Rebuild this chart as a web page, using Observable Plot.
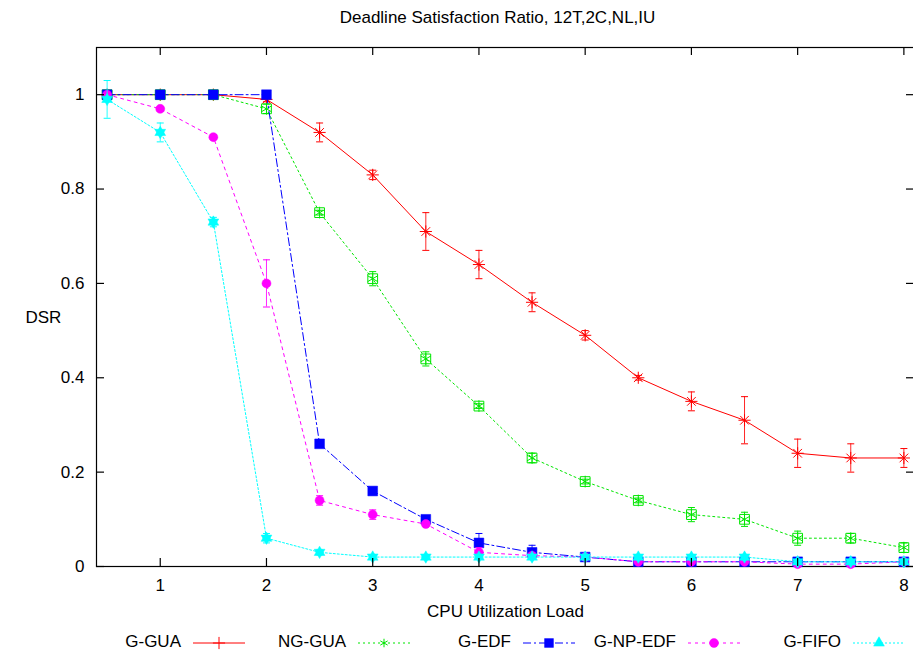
<!DOCTYPE html>
<html><head><meta charset="utf-8">
<script src="https://cdn.jsdelivr.net/npm/d3@7"></script>
<script src="https://cdn.jsdelivr.net/npm/@observablehq/plot@0.6"></script>
<style>
html,body{margin:0;padding:0;background:#fff;overflow:hidden;}
#wrap{width:913px;height:657px;overflow:hidden;position:relative;font-family:"Liberation Sans",Arial,sans-serif;}
#chart{position:absolute;left:0;top:0;width:920px;}
#chart svg{max-width:none !important;}
#legend{position:absolute;left:0;top:625px;}
</style></head><body>
<div id="wrap"><div id="chart"></div><svg id="legend" width="913" height="32"></svg></div>
<script>
const titleText = "Deadline Satisfaction Ratio, 12T,2C,NL,IU";
const xLabel = "CPU Utilization Load";
const yLabel = "DSR";
const xTicks = [1, 2, 3, 4, 5, 6, 7, 8];
const yTicks = [0, 0.2, 0.4, 0.6, 0.8, 1];
const loads = [0.5, 1, 1.5, 2, 2.5, 3, 3.5, 4, 4.5, 5, 5.5, 6, 6.5, 7, 7.5, 8];
const seriesNames = ["G-GUA", "NG-GUA", "G-EDF", "G-NP-EDF", "G-FIFO"];
const gGUA      = [1, 1, 1, 0.99, 0.92, 0.83, 0.71, 0.64, 0.56, 0.49, 0.40, 0.35, 0.31, 0.24, 0.23, 0.23];
const gGUAErr   = [0, 0, 0, 0.005, 0.02, 0.01, 0.04, 0.03, 0.02, 0.01, 0.005, 0.02, 0.05, 0.03, 0.03, 0.02];
const ngGUA     = [1, 1, 1, 0.97, 0.75, 0.61, 0.44, 0.34, 0.23, 0.18, 0.14, 0.11, 0.10, 0.06, 0.06, 0.04];
const ngGUAErr  = [0, 0, 0, 0.01, 0.005, 0.015, 0.015, 0.005, 0.01, 0.005, 0.005, 0.015, 0.015, 0.015, 0.01, 0.01];
const gEDF      = [1, 1, 1, 1, 0.26, 0.16, 0.10, 0.05, 0.03, 0.02, 0.01, 0.01, 0.01, 0.01, 0.01, 0.01];
const gEDFErr   = [0, 0, 0, 0, 0.005, 0.005, 0.005, 0.02, 0.015, 0.005, 0, 0, 0, 0, 0, 0];
const gNPEDF    = [1, 0.97, 0.91, 0.60, 0.14, 0.11, 0.09, 0.03, 0.023, 0.02, 0.01, 0.01, 0.01, 0.005, 0.005, 0.01];
const gNPEDFErr = [0, 0.005, 0.005, 0.05, 0.01, 0.01, 0.005, 0.01, 0.005, 0.005, 0, 0, 0, 0, 0, 0];
const gFIFO     = [0.99, 0.92, 0.73, 0.06, 0.03, 0.02, 0.02, 0.02, 0.02, 0.02, 0.02, 0.02, 0.02, 0.01, 0.01, 0.01];
const gFIFOErr  = [0.04, 0.02, 0.01, 0.01, 0.005, 0.005, 0.005, 0.005, 0.005, 0.005, 0, 0, 0, 0, 0, 0];

const seriesValues = [gGUA, ngGUA, gEDF, gNPEDF, gFIFO];
const seriesErrs = [gGUAErr, ngGUAErr, gEDFErr, gNPEDFErr, gFIFOErr];

// styles
const styles = [
  {color: "#ff0000", dash: null, syms: [{s: "plus", fill: false}, {s: "times", fill: false}], r: 4, leg: d3.symbolPlus, legR: 4},
  {color: "#00e600", dash: "2,3", syms: [{s: "asterisk", fill: false}, {s: "square", fill: false}], r: 5.5, leg: d3.symbolAsterisk, legR: 4},
  {color: "#0000ff", dash: "8,3,2,3", syms: [{s: "square", fill: true}], r: 5.5, leg: d3.symbolSquare, legR: 5},
  {color: "#ff00ff", dash: "3,4", syms: [{s: "circle", fill: true}], r: 4.5, leg: d3.symbolCircle, legR: 4.5},
  {color: "#00ffff", dash: "2,2", syms: [{s: "triangle", fill: true}, {s: "triangle", fill: true, rot: 180}], r: 4, leg: d3.symbolTriangle, legR: 4}
];

const W = 920, H = 625, mL = 96, mR = 6, mT = 47, mB = 59;
const plotW = W - mL - mR, plotH = H - mT - mB;

const capSymbol = {draw(ctx, size) { const h = Math.sqrt(size / Math.PI); ctx.moveTo(-h, 0); ctx.lineTo(h, 0); }};

const marks = [];
seriesNames.forEach((name, k) => {
  const st = styles[k];
  const rows = loads.map((x, i) => ({series: name, x, y: seriesValues[k][i], e: seriesErrs[k][i], lo: seriesValues[k][i] - seriesErrs[k][i], hi: seriesValues[k][i] + seriesErrs[k][i]}));
  const eb = rows.filter(d => d.e > 0);
  marks.push(Plot.line(rows, {x: "x", y: "y", stroke: st.color, strokeWidth: 1, strokeDasharray: st.dash}));
  marks.push(Plot.ruleX(eb, {x: "x", y1: "lo", y2: "hi", stroke: st.color, strokeWidth: 1, strokeOpacity: 0.85}));
  marks.push(Plot.dot(eb, {x: "x", y: "lo", symbol: capSymbol, r: 3.5, fill: "none", stroke: st.color, strokeWidth: 1}));
  marks.push(Plot.dot(eb, {x: "x", y: "hi", symbol: capSymbol, r: 3.5, fill: "none", stroke: st.color, strokeWidth: 1}));
  st.syms.forEach(sy => {
    marks.push(Plot.dot(rows, {x: "x", y: "y", symbol: sy.s, r: st.r, rotate: sy.rot || 0,
      fill: sy.fill ? st.color : "none", stroke: st.color, strokeWidth: sy.fill ? 0.5 : 1}));
  });
});

const chart = Plot.plot({
  width: W, height: H,
  marginLeft: mL, marginRight: mR, marginTop: mT, marginBottom: mB,
  style: {fontFamily: "Liberation Sans, Arial, sans-serif", fontSize: "17px", color: "#000", background: "#fff", maxWidth: "none"},
  x: {domain: [0.4, 8.1]},
  y: {domain: [0, 1.1]},
  marks: [
    Plot.frame({stroke: "#000", strokeWidth: 1.2}),
    ...marks,
    Plot.tickY(yTicks, {y: d => d, insetRight: plotW - 8, stroke: "#000", strokeWidth: 1.2}),
    Plot.tickY(yTicks, {y: d => d, insetLeft: plotW - 8, stroke: "#000", strokeWidth: 1.2}),
    Plot.tickX(xTicks, {x: d => d, insetTop: plotH - 8, stroke: "#000", strokeWidth: 1.2}),
    Plot.tickX(xTicks, {x: d => d, insetBottom: plotH - 8, stroke: "#000", strokeWidth: 1.2}),
    Plot.axisY({anchor: "left", ticks: yTicks, tickSize: 0, tickPadding: 12, tickFormat: d => String(+d.toFixed(1)), label: null}),
    Plot.axisX({anchor: "bottom", ticks: xTicks, tickSize: 0, tickPadding: 12, tickFormat: d => String(d), label: null}),
    Plot.text([xLabel], {frameAnchor: "bottom", dy: 45, lineAnchor: "middle", text: d => d, fontSize: 17}),
    Plot.text([yLabel], {frameAnchor: "left", dx: -71, dy: 11, lineAnchor: "middle", text: d => d, fontSize: 17}),
    Plot.text([titleText], {frameAnchor: "top", dx: -8, dy: -30, lineAnchor: "middle", text: d => d, fontSize: 17})
  ]
});
document.getElementById("chart").appendChild(chart);

// legend
const leg = d3.select("#legend");
seriesNames.forEach((name, k) => {
  const st = styles[k];
  const sx = 193 + k * 165, cy = 18;
  leg.append("text").attr("x", sx - 12).attr("y", cy).attr("text-anchor", "end").attr("dominant-baseline", "middle")
    .attr("font-family", "Liberation Sans, Arial, sans-serif").attr("font-size", 17).text(name);
  leg.append("line").attr("x1", sx).attr("x2", sx + 52).attr("y1", cy).attr("y2", cy)
    .attr("stroke", st.color).attr("stroke-width", 1).attr("stroke-dasharray", st.dash);
  const filled = st.syms[0].fill;
  leg.append("path").attr("transform", `translate(${sx + 26},${cy})`)
    .attr("d", d3.symbol(st.leg, Math.PI * st.legR * st.legR)())
    .attr("fill", filled ? st.color : "none").attr("stroke", st.color).attr("stroke-width", filled ? 0.5 : 1);
});
</script></body></html>
